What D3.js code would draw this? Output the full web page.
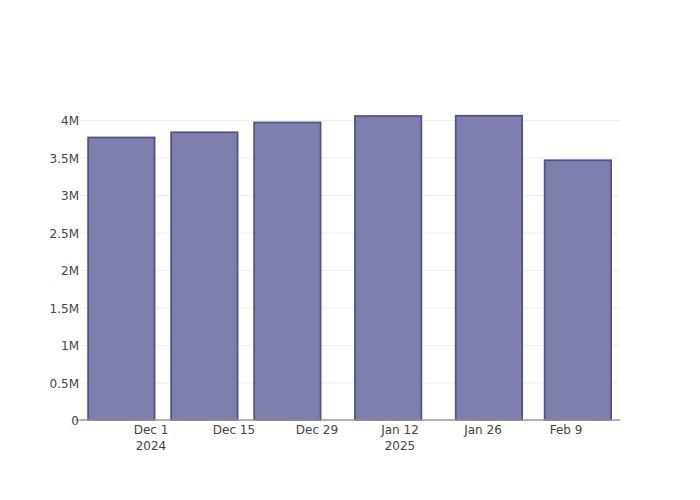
<!DOCTYPE html>
<html><head><meta charset="utf-8">
<script src="https://cdn.jsdelivr.net/npm/d3@7"></script>
<style>body{margin:0;background:#fff}svg{display:block}text{font-family:"DejaVu Sans",sans-serif}</style>
</head><body><svg id="c" width="700" height="500"></svg>
<script>
const dates = ["2024-11-26","2024-12-10","2024-12-24","2025-01-10","2025-01-27","2025-02-11"];
const values = [3767000, 3836000, 3967000, 4053000, 4057000, 3463000];
const xTicks = ["2024-12-01","2024-12-15","2024-12-29","2025-01-12","2025-01-26","2025-02-09"];
const xTickLabels = [["Dec 1","2024"],["Dec 15"],["Dec 29"],["Jan 12","2025"],["Jan 26"],["Feb 9"]];
const yTicks = [0, 500000, 1000000, 1500000, 2000000, 2500000, 3000000, 3500000, 4000000];
const yTickLabels = ["0","0.5M","1M","1.5M","2M","2.5M","3M","3.5M","4M"];
const xDomain = ["2024-11-19T00:40:00Z","2025-02-18T02:30:00Z"];

const svg = d3.select("#c");
const L=80, R=620, T=100, B=420;
const x = d3.scaleUtc().domain(xDomain.map(d=>new Date(d))).range([L,R]);
const y = d3.scaleLinear().domain([0,4000000/300*320]).range([B,T]);
const DAY = 864e5;
const barW = 0.8*14*DAY;

// grid
svg.append("g").selectAll("line").data(yTicks.slice(1)).join("line")
  .attr("x1",L).attr("x2",R).attr("y1",d=>y(d)+0.5).attr("y2",d=>y(d)+0.5)
  .attr("stroke","#eee").attr("stroke-width",1);

// bars
svg.append("g").selectAll("rect").data(dates).join("rect")
  .attr("x",(d)=>x(new Date(new Date(d+"T00:00:00Z").getTime()-barW/2)))
  .attr("width",(d)=>{const c=new Date(d+"T00:00:00Z").getTime();return x(new Date(c+barW/2))-x(new Date(c-barW/2));})
  .attr("y",(d,i)=>y(values[i]))
  .attr("height",(d,i)=>y(0)-y(values[i]))
  .attr("fill","#7f7fae").attr("stroke","#52528f").attr("stroke-width",1.8);

// x axis line
svg.append("line").attr("x1",L).attr("x2",R).attr("y1",y(0)).attr("y2",y(0))
  .attr("stroke","#999").attr("stroke-width",1.5);
svg.append("line").attr("x1",L-5).attr("x2",L).attr("y1",y(0)).attr("y2",y(0))
  .attr("stroke","#999").attr("stroke-width",1);

// x labels
const xl = svg.append("g").selectAll("text").data(xTicks).join("text")
  .attr("x",d=>x(new Date(d+"T00:00:00Z"))).attr("y",434)
  .attr("text-anchor","middle").attr("font-size",12).attr("fill","#444");
xl.each(function(d,i){
  const t=d3.select(this);
  xTickLabels[i].forEach((s,j)=>t.append("tspan").attr("x",x(new Date(d+"T00:00:00Z"))).attr("dy",j?15.5:0).text(s));
});

// y labels
svg.append("g").selectAll("text").data(yTicks).join("text")
  .attr("x",79).attr("y",d=>y(d)+5).attr("text-anchor","end")
  .attr("font-size",12).attr("fill","#444").text((d,i)=>yTickLabels[i]);
</script></body></html>
